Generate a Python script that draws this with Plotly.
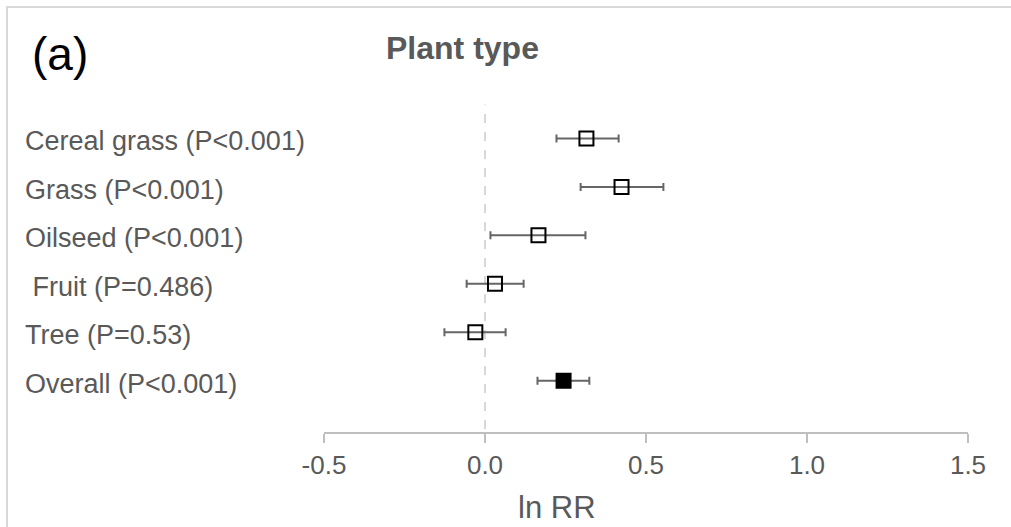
import plotly.graph_objects as go

categories = ["Cereal grass (P<0.001)", "Grass (P<0.001)", "Oilseed (P<0.001)",
              " Fruit (P=0.486)", "Tree (P=0.53)", "Overall (P<0.001)"]
positions = [6, 5, 4, 3, 2, 1]
effect = [0.315, 0.424, 0.166, 0.031, -0.030, 0.244]
ci_low = [0.222, 0.297, 0.017, -0.057, -0.126, 0.163]
ci_high = [0.415, 0.554, 0.312, 0.120, 0.064, 0.324]
filled = [False, False, False, False, False, True]
tick_vals = [-0.5, 0.0, 0.5, 1.0, 1.5]
tick_text = ["-0.5", "0.0", "0.5", "1.0", "1.5"]

W, H = 1011, 527
L, R, T, B = 324, 43, 90, 95
pw, ph = W - L - R, H - T - B

def px_x(p):
    return (p - L) / pw

def px_y(p):
    return (H - B - p) / ph

fig = go.Figure()
for f in (False, True):
    idx = [i for i in range(len(categories)) if filled[i] == f]
    fig.add_trace(go.Scatter(
        x=[effect[i] for i in idx],
        y=[positions[i] for i in idx],
        mode="markers",
        marker=dict(symbol="square" if f else "square-open", size=14,
                    color="black", line=dict(color="black", width=2)),
        error_x=dict(type="data", symmetric=False,
                     array=[ci_high[i] - effect[i] for i in idx],
                     arrayminus=[effect[i] - ci_low[i] for i in idx],
                     color="#666666", thickness=2, width=4),
        showlegend=False,
    ))

grey = "#595959"
font_main = "Liberation Sans, Arial, sans-serif"

# zero line
fig.add_shape(type="line", x0=0, x1=0, y0=0, y1=6.7, xref="x", yref="y",
              line=dict(color="#b0b0b0", width=1, dash="dash"), layer="below")

# category labels
for c, p in zip(categories, positions):
    fig.add_annotation(x=px_x(23), y=p, xref="paper", yref="y", text=c,
                       showarrow=False, xanchor="left", yanchor="middle", yshift=-3,
                       font=dict(size=27, color=grey, family=font_main))

# title and panel letter
fig.add_annotation(x=px_x(462), y=px_y(48), xref="paper", yref="paper",
                   text="<b>Plant type</b>", showarrow=False,
                   xanchor="center", yanchor="middle",
                   font=dict(size=32, color=grey, family=font_main))
fig.add_annotation(x=px_x(30), y=px_y(54), xref="paper", yref="paper",
                   text="(a)", showarrow=False, xanchor="left", yanchor="middle",
                   font=dict(size=46, color="black", family=font_main))
fig.add_annotation(x=px_x(557), y=px_y(507), xref="paper", yref="paper",
                   text="ln RR", showarrow=False, xanchor="center", yanchor="middle",
                   font=dict(size=31, color=grey, family=font_main))

# border (top and left visible)
fig.add_shape(type="rect", xref="paper", yref="paper",
              x0=px_x(7), x1=px_x(1020), y0=px_y(540), y1=px_y(7),
              line=dict(color="#d9d9d9", width=2), layer="below")

fig.update_xaxes(range=[-0.5, 1.5], tickvals=tick_vals, ticktext=tick_text,
                 showgrid=False, zeroline=False, showline=True,
                 linecolor="#bfbfbf", linewidth=2, ticks="outside",
                 ticklen=9, tickwidth=2, tickcolor="#bfbfbf",
                 ticklabelstandoff=0,
                 tickfont=dict(size=26, color=grey, family=font_main))
fig.update_yaxes(range=[-0.06, 7], showgrid=False, zeroline=False,
                 showline=False, showticklabels=False, ticks="")
fig.update_layout(width=W, height=H,
                  margin=dict(l=L, r=R, t=T, b=B),
                  plot_bgcolor="white", paper_bgcolor="white",
                  font=dict(family=font_main))
fig.write_html("out.html", config={"displayModeBar": False},
               post_script="document.body.style.margin='0';document.body.style.overflow='hidden';")
